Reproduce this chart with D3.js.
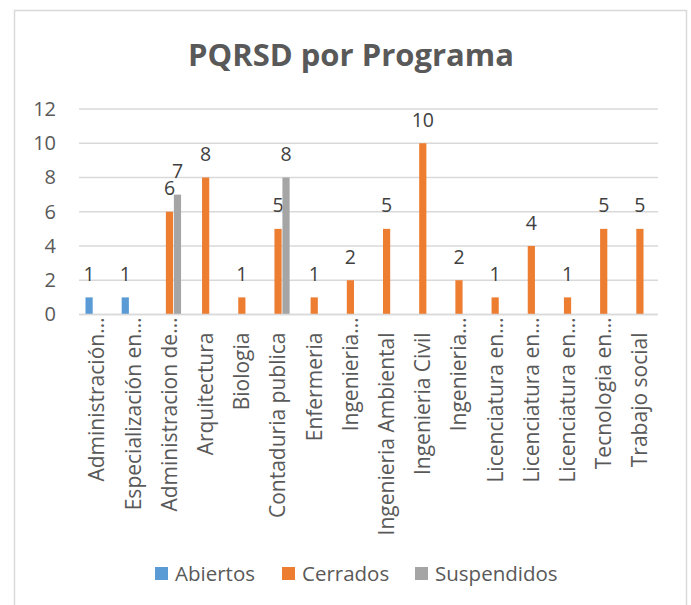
<!DOCTYPE html>
<html>
<head>
<meta charset="utf-8">
<script src="https://d3js.org/d3.v7.min.js"></script>
<style>
	body { margin: 0; background: #fff; }
	text { font-family: "Open Sans", "DejaVu Sans", sans-serif; }
</style>
</head>
<body>
<div id="container"></div>
<script>
// chart data
var programas = ["Administración…", "Especialización en…", "Administracion de…", "Arquitectura",
	"Biologia", "Contaduria publica", "Enfermeria", "Ingenieria…", "Ingenieria Ambiental",
	"Ingenieria Civil", "Ingenieria…", "Licenciatura en…", "Licenciatura en…", "Licenciatura en…",
	"Tecnologia en…", "Trabajo social"];
var abiertos    = [1, 1, 0, 0, 0, 0, 0, 0, 0, 0, 0, 0, 0, 0, 0, 0];
var cerrados    = [0, 0, 6, 8, 1, 5, 1, 2, 5, 10, 2, 1, 4, 1, 5, 5];
var suspendidos = [0, 0, 7, 0, 0, 8, 0, 0, 0, 0, 0, 0, 0, 0, 0, 0];
var series = ["Abiertos", "Cerrados", "Suspendidos"];
var yTicks = [0, 2, 4, 6, 8, 10, 12];

function load() {

	var W = 691, H = 605;
	var colors = ["#5B9BD5", "#ED7D31", "#A5A5A5"];
	var values = [abiertos, cerrados, suspendidos];

	// plot area
	var margin = { top: 109, left: 79 },
		width = 658 - 79,
		height = 314.5 - 109;

	var svg = d3.select("#container").append("svg")
		.attr("width", W)
		.attr("height", H);

	// chart border
	svg.append("rect")
		.attr("x", 14.5).attr("y", 10.5)
		.attr("width", 672).attr("height", 620)
		.attr("fill", "#fff")
		.attr("stroke", "#D9D9D9")
		.attr("stroke-width", 1.5);

	// title
	svg.append("text")
		.attr("x", 351).attr("y", 66)
		.attr("text-anchor", "middle")
		.style("font-size", "31px")
		.style("font-weight", "bold")
		.attr("fill", "#595959")
		.text("PQRSD por Programa");

	var g = svg.append("g")
		.attr("transform", "translate(" + margin.left + "," + margin.top + ")");

	// scales
	var x = d3.scaleBand()
		.domain(d3.range(programas.length))
		.range([0, width]);

	var y = d3.scaleLinear()
		.domain([0, 12])
		.range([height, 0]);

	var barW = 7.2, step = 8;

	// gridlines
	g.append("g")
		.selectAll("line")
		.data(yTicks)
		.enter().append("line")
		.attr("x1", 0).attr("x2", width)
		.attr("y1", function(d) { return y(d); })
		.attr("y2", function(d) { return y(d); })
		.attr("stroke", "#D9D9D9")
		.attr("stroke-width", 1.5);

	// y axis
	var yAxis = g.append("g")
		.call(d3.axisLeft(y).tickValues(yTicks).tickSize(0).tickPadding(23));
	yAxis.select(".domain").remove();
	yAxis.selectAll("text")
		.style("font-size", "20px")
		.attr("fill", "#595959");

	// x axis labels (truncated ones sit a bit higher)
	var xAxis = g.append("g")
		.attr("transform", "translate(0," + height + ")")
		.call(d3.axisBottom(x).tickSize(0).tickFormat(function(i) { return programas[i]; }));
	xAxis.select(".domain").remove();
	xAxis.selectAll("text")
		.style("font-size", "21px")
		.attr("fill", "#595959")
		.attr("text-anchor", "end")
		.attr("transform", "rotate(-90)")
		.attr("x", function(i) { return programas[i].slice(-1) === "…" ? -3 : -18; })
		.attr("y", 0)
		.attr("dy", "0.35em");

	// bars + labels
	values.forEach(function(vals, s) {
		var data = vals.map(function(v, i) { return { i: i, v: v }; })
			.filter(function(d) { return d.v > 0; });

		g.selectAll(".bar" + s)
			.data(data)
			.enter().append("rect")
			.attr("x", function(d) { return x(d.i) + x.bandwidth() / 2 + (s - 1) * step - barW / 2; })
			.attr("y", function(d) { return y(d.v); })
			.attr("width", barW)
			.attr("height", function(d) { return height - y(d.v); })
			.attr("fill", colors[s]);

		g.selectAll(".lab" + s)
			.data(data)
			.enter().append("text")
			.attr("x", function(d) { return x(d.i) + x.bandwidth() / 2 + (s - 1) * step; })
			.attr("y", function(d) { return y(d.v) - 16.5; })
			.attr("text-anchor", "middle")
			.style("font-size", "19.5px")
			.attr("fill", "#404040")
			.text(function(d) { return d.v; });
	});

	// baseline
	g.append("line")
		.attr("x1", 0).attr("x2", width)
		.attr("y1", height).attr("y2", height)
		.attr("stroke", "#D9D9D9")
		.attr("stroke-width", 1.5);

	// legend
	var legX = [155, 282, 415];
	var leg = svg.append("g");
	series.forEach(function(name, s) {
		leg.append("rect")
			.attr("x", legX[s]).attr("y", 567)
			.attr("width", 13).attr("height", 13)
			.attr("fill", colors[s]);
		leg.append("text")
			.attr("x", legX[s] + 20).attr("y", 581)
			.style("font-size", "20.5px")
			.attr("fill", "#595959")
			.text(name);
	});
}
load();
</script>
</body>
</html>
